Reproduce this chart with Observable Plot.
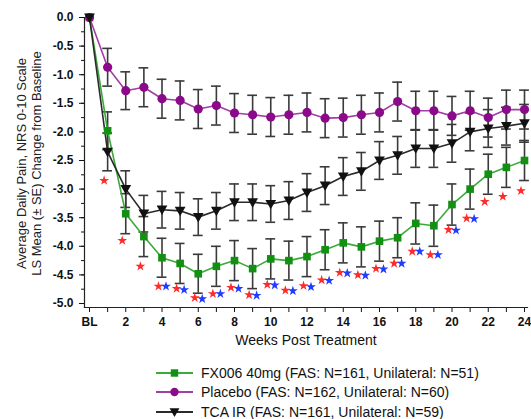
<!DOCTYPE html>
<html>
<head>
<meta charset="utf-8">
<script src="https://cdn.jsdelivr.net/npm/d3@7"></script>
<script src="https://cdn.jsdelivr.net/npm/@observablehq/plot@0.6"></script>
<style>
  html, body { margin: 0; padding: 0; background: #fff; }
  body { width: 531px; height: 419px; overflow: hidden; font-family: "Liberation Sans", Arial, sans-serif; }
  #chart svg { display: block; }
  #chart g[aria-label="y-axis tick label"] text,
  #chart g[aria-label="x-axis tick label"] text { font-weight: bold; }
  #legend { margin-top: 11px; margin-left: 156px; }
  .row { display: flex; align-items: center; height: 19.5px; font-size: 14px; color: #111; white-space: nowrap; }
  .row svg { margin-right: 8px; }
</style>
</head>
<body>
<div id="chart"></div>
<div id="legend"></div>
<script>
// ---- data ----
const weeks = [0, 1, 2, 3, 4, 5, 6, 7, 8, 9, 10, 11, 12, 13, 14, 15, 16, 17, 18, 19, 20, 21, 22, 23, 24];
const xTickLabels = ["BL", "", "2", "", "4", "", "6", "", "8", "", "10", "", "12", "", "14", "", "16", "", "18", "", "20", "", "22", "", "24"];
const seriesNames = ["FX006 40mg (FAS: N=161, Unilateral: N=51)", "Placebo (FAS: N=162, Unilateral: N=60)", "TCA IR (FAS: N=161, Unilateral: N=59)"];

const fx006 = [0, -1.98, -3.43, -3.83, -4.20, -4.30, -4.48, -4.35, -4.25, -4.39, -4.22, -4.25, -4.18, -4.06, -3.94, -4.01, -3.91, -3.85, -3.60, -3.64, -3.27, -3.00, -2.74, -2.62, -2.50];
const placebo = [0, -0.87, -1.28, -1.22, -1.42, -1.45, -1.60, -1.54, -1.67, -1.70, -1.74, -1.70, -1.66, -1.76, -1.75, -1.70, -1.66, -1.47, -1.63, -1.63, -1.72, -1.63, -1.75, -1.61, -1.61];
const tca = [0, -2.35, -3.00, -3.43, -3.36, -3.38, -3.49, -3.38, -3.23, -3.23, -3.26, -3.20, -3.06, -2.94, -2.78, -2.69, -2.50, -2.41, -2.29, -2.29, -2.20, -2.00, -1.94, -1.90, -1.85];

const seFx006 = [0, 0.33, 0.35, 0.35, 0.34, 0.35, 0.34, 0.35, 0.35, 0.35, 0.35, 0.34, 0.35, 0.35, 0.35, 0.35, 0.35, 0.35, 0.36, 0.36, 0.36, 0.35, 0.35, 0.35, 0.35];
const sePlacebo = [0, 0.33, 0.33, 0.34, 0.34, 0.34, 0.34, 0.34, 0.34, 0.34, 0.34, 0.34, 0.34, 0.34, 0.34, 0.34, 0.34, 0.34, 0.34, 0.34, 0.34, 0.34, 0.34, 0.34, 0.34];
const seTca = [0, 0.33, 0.32, 0.32, 0.32, 0.32, 0.32, 0.32, 0.32, 0.32, 0.32, 0.33, 0.33, 0.33, 0.33, 0.33, 0.33, 0.33, 0.33, 0.33, 0.33, 0.33, 0.33, 0.33, 0.33];

// significance markers (red: vs placebo, blue: vs TCA IR)
const redStarWeeks = [1, 2, 3, 4, 5, 6, 7, 8, 9, 10, 11, 12, 13, 14, 15, 16, 17, 18, 19, 20, 21, 22, 23, 24];
const redStarLevel = [-2.85, -3.90, -4.35, -4.70, -4.74, -4.90, -4.83, -4.72, -4.85, -4.67, -4.77, -4.69, -4.59, -4.46, -4.50, -4.39, -4.30, -4.09, -4.15, -3.71, -3.51, -3.22, -3.13, -3.03];
const blueStarWeeks = [4, 5, 6, 7, 8, 9, 10, 11, 12, 13, 14, 15, 16, 17, 18, 19, 20, 21];
const blueStarLevel = [-4.70, -4.76, -4.92, -4.83, -4.74, -4.86, -4.68, -4.78, -4.71, -4.60, -4.47, -4.51, -4.40, -4.30, -4.09, -4.15, -3.72, -3.52];

// ---- styles ----
const colors = { fx: "#119011", fxLine: "#3aaa3a", pl: "#8a0a8a", plLine: "#a23ea6", tca: "#111", tcaLine: "#2a2a2a", bar: "#3a3a3a" };

const triDown = {
  draw(ctx, size) {
    const s = Math.sqrt(size);
    ctx.moveTo(-s * 0.66, -s * 0.5);
    ctx.lineTo(s * 0.66, -s * 0.5);
    ctx.lineTo(0, s * 0.66);
    ctx.closePath();
  }
};

function rows(vals, se) { return weeks.map((w, i) => ({ week: w, value: vals[i], se: se[i] })); }
const fxRows = rows(fx006, seFx006);
const plRows = rows(placebo, sePlacebo);
const tcaRows = rows(tca, seTca);
const allBars = [...fxRows, ...plRows, ...tcaRows].filter(d => d.se > 0);
const caps = allBars.flatMap(d => [{ week: d.week, y: d.value - d.se }, { week: d.week, y: d.value + d.se }]);
const redStars = redStarWeeks.map((w, i) => ({ week: w, y: redStarLevel[i] }));
const blueStars = blueStarWeeks.map((w, i) => ({ week: w, y: blueStarLevel[i] }));

const yMajor = d3.range(0, 11).map(i => -i * 0.5);
const yMinor = d3.range(0, 21).map(i => -i * 0.25);

const chart = Plot.plot({
  width: 531,
  height: 352,
  marginLeft: 84,
  marginRight: 4,
  marginTop: 17,
  marginBottom: 45,
  style: { fontFamily: "'Liberation Sans', Arial, sans-serif", fontSize: "12px", color: "#111", background: "#fff" },
  x: { domain: [0, 24], insetLeft: 5, insetRight: 3 },
  y: { domain: [-5, 0], insetBottom: 4 },
  marks: [
    Plot.axisY({ ticks: yMinor, tickSize: 3, tickFormat: () => "", label: null }),
    Plot.axisY({ ticks: yMajor, tickSize: 5, tickPadding: 6, tickFormat: d => d.toFixed(1), label: null, fontSize: 12 }),
    Plot.axisX({ ticks: weeks, tickSize: 5, tickPadding: 5, tickFormat: d => xTickLabels[weeks.indexOf(d)], label: null, fontSize: 12 }),
    Plot.frame({ anchor: "left", stroke: "#222", strokeWidth: 1.2 }),
    Plot.frame({ anchor: "bottom", stroke: "#222", strokeWidth: 1.2 }),
    Plot.text(["Average Daily Pain, NRS 0-10 Scale"], { frameAnchor: "left", textAnchor: "middle", rotate: -90, dx: -63, dy: 1, fontSize: 13, fill: "#222" }),
    Plot.text(["LS Mean (\u00b1 SE) Change from Baseline"], { frameAnchor: "left", textAnchor: "middle", rotate: -90, dx: -48, dy: 1, fontSize: 13, fill: "#222" }),
    Plot.text(["Weeks Post Treatment"], { frameAnchor: "bottom", dy: 37, fontSize: 14, fill: "#111" }),
    // error bars
    Plot.ruleX(allBars, { x: "week", y1: d => d.value - d.se, y2: d => d.value + d.se, stroke: colors.bar, strokeWidth: 1.6 }),
    Plot.ruleY(caps, { y: "y", x1: d => d.week - 0.27, x2: d => d.week + 0.27, stroke: colors.bar, strokeWidth: 1.6 }),
    // lines
    Plot.line(fxRows, { x: "week", y: "value", stroke: colors.fxLine, strokeWidth: 1.6 }),
    Plot.line(plRows, { x: "week", y: "value", stroke: colors.plLine, strokeWidth: 1.6 }),
    Plot.line(tcaRows, { x: "week", y: "value", stroke: colors.tcaLine, strokeWidth: 1.6 }),
    // markers
    Plot.dot(fxRows, { x: "week", y: "value", symbol: "square", r: 4.3, fill: colors.fx, stroke: "none" }),
    Plot.dot(plRows, { x: "week", y: "value", symbol: "circle", r: 4.6, fill: colors.pl, stroke: "none" }),
    Plot.dot(tcaRows, { x: "week", y: "value", symbol: triDown, r: 4.6, fill: colors.tca, stroke: "none" }),
    // significance stars
    Plot.dot(redStars, { x: "week", y: "y", symbol: "star", r: 3.1, fill: "#ff2a2a", stroke: "none", dx: -3.5 }),
    Plot.dot(blueStars, { x: "week", y: "y", symbol: "star", r: 3.1, fill: "#1f3cff", stroke: "none", dx: 4 })
  ]
});
document.getElementById("chart").append(chart);

// ---- legend ----
const legendItems = [
  { name: seriesNames[0], line: colors.fxLine, fill: colors.fx, sym: d3.symbolSquare },
  { name: seriesNames[1], line: colors.plLine, fill: colors.pl, sym: d3.symbolCircle },
  { name: seriesNames[2], line: colors.tcaLine, fill: colors.tca, sym: triDown }
];
const legend = d3.select("#legend");
for (const it of legendItems) {
  const row = legend.append("div").attr("class", "row");
  const s = row.append("svg").attr("width", 37).attr("height", 12);
  s.append("line").attr("x1", 0).attr("x2", 37).attr("y1", 6).attr("y2", 6).attr("stroke", it.line).attr("stroke-width", 1.8);
  s.append("path").attr("transform", "translate(18.5,6)").attr("d", d3.symbol(it.sym, 55)()).attr("fill", it.fill);
  row.append("span").text(it.name);
}
</script>
</body>
</html>
